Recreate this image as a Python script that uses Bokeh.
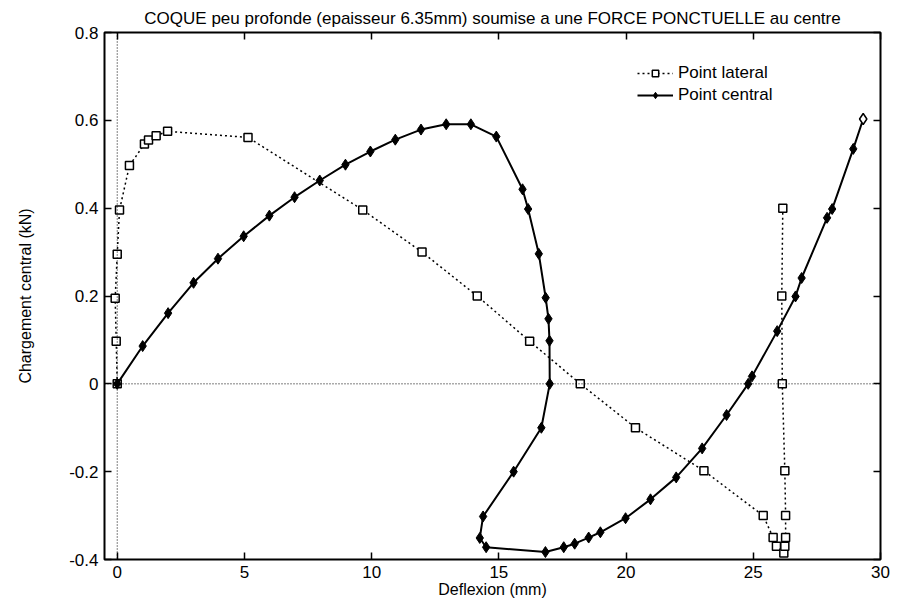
from bokeh.plotting import figure
from bokeh.models import FixedTicker, LinearAxis, Span, Legend, LegendItem
from bokeh.embed import file_html
from bokeh.resources import INLINE

# Point lateral (squares, dotted)
lat_x = [0.0, -0.04, -0.08, 0.0, 0.09, 0.48, 1.07, 1.23, 1.53, 1.98, 5.14, 9.65, 11.98, 14.15,
         16.21, 18.2, 20.37, 23.06, 25.39, 25.78, 25.91, 26.2, 26.24, 26.27, 26.27, 26.24,
         26.14, 26.12, 26.16]
lat_y = [0.0, 0.097, 0.195, 0.295, 0.396, 0.497, 0.546, 0.555, 0.565, 0.575, 0.561, 0.396, 0.3, 0.2,
         0.097, 0.0, -0.1, -0.198, -0.3, -0.35, -0.37, -0.385, -0.37, -0.35, -0.3, -0.198,
         0.0, 0.2, 0.4]

# Point central (diamonds, solid)
cen_x = [0.0, 1.0, 2.0, 3.0, 3.96, 4.97, 5.98, 6.97, 7.96, 8.97, 9.95, 10.93, 11.94, 12.93, 13.9,
         14.9, 15.93, 16.15, 16.57, 16.84, 16.95, 16.99, 17.0, 16.67, 15.58, 14.38, 14.25, 14.5,
         16.83, 17.55, 17.98, 18.53, 18.99, 19.98, 20.96, 21.97, 22.99, 23.95, 24.8, 24.95,
         25.94, 26.66, 26.9, 27.9, 28.1, 28.93, 29.32]
cen_y = [0.0, 0.086, 0.161, 0.23, 0.285, 0.336, 0.383, 0.425, 0.463, 0.499, 0.529, 0.556, 0.579,
         0.591, 0.591, 0.563, 0.443, 0.398, 0.296, 0.196, 0.148, 0.098, 0.0, -0.1, -0.2, -0.302,
         -0.351, -0.372, -0.383, -0.372, -0.364, -0.35, -0.338, -0.306, -0.263, -0.213, -0.147,
         -0.071, 0.0, 0.017, 0.12, 0.199, 0.241, 0.378, 0.398, 0.535, 0.603]

x_ticks = [0, 5, 10, 15, 20, 25, 30]
x_labels = ["0", "5", "10", "15", "20", "25", "30"]
y_ticks = [-0.4, -0.2, 0, 0.2, 0.4, 0.6, 0.8]
y_labels = ["-0.4", "-0.2", "0", "0.2", "0.4", "0.6", "0.8"]

FONT = "Liberation Sans"

p = figure(width=899, height=604, output_backend="svg", toolbar_location=None,
           x_range=(-0.5, 30), y_range=(-0.4, 0.8),
           min_border_left=104, min_border_right=19, min_border_top=32, min_border_bottom=45,
           title="COQUE peu profonde (epaisseur 6.35mm) soumise a une FORCE PONCTUELLE au centre")
p.title.align = "center"
p.title.text_font = FONT
p.title.text_font_size = "17px"
p.title.text_font_style = "normal"
p.title.text_color = "black"
p.title.offset = 0
p.grid.visible = False
p.outline_line_color = "black"
p.outline_line_width = 2
p.background_fill_color = "white"
p.border_fill_color = "white"

# axes
p.xaxis.ticker = FixedTicker(ticks=x_ticks)
p.yaxis.ticker = FixedTicker(ticks=y_ticks)
p.xaxis.major_label_overrides = {t: l for t, l in zip(x_ticks, x_labels)}
p.yaxis.major_label_overrides = {t: l for t, l in zip(y_ticks, y_labels)}
for ax in (p.xaxis[0], p.yaxis[0]):
    ax.major_tick_in = 7
    ax.major_tick_out = 0
    ax.minor_tick_line_color = None
    ax.axis_line_color = None
    ax.major_tick_line_width = 1.5
    ax.major_label_text_font = FONT
    ax.major_label_text_font_size = "17px"
    ax.major_label_text_color = "black"
    ax.axis_label_text_font = FONT
    ax.axis_label_text_font_size = "16px"
    ax.axis_label_text_font_style = "normal"
    ax.axis_label_text_color = "black"
    ax.major_label_standoff = 6
p.xaxis.axis_label = "Deflexion (mm)"
p.yaxis.axis_label = "Chargement central (kN)"
p.xaxis.axis_label_standoff = 0
p.yaxis.axis_label_standoff = 32

top = LinearAxis(ticker=FixedTicker(ticks=x_ticks), major_tick_in=7, major_tick_out=0,
                 minor_tick_line_color=None, axis_line_color=None, major_label_text_color=None,
                 major_label_text_font_size="1px", major_tick_line_width=1.5)
right = LinearAxis(ticker=FixedTicker(ticks=y_ticks), major_tick_in=7, major_tick_out=0,
                   minor_tick_line_color=None, axis_line_color=None, major_label_text_color=None,
                   major_label_text_font_size="1px", major_tick_line_width=1.5)
p.add_layout(top, "above")
p.add_layout(right, "right")

# zero axes
p.add_layout(Span(location=0, dimension="width", line_color="black", line_width=1, line_dash="1 2"))
p.add_layout(Span(location=0, dimension="height", line_color="black", line_width=1, line_dash="1 2"))

l1 = p.line(lat_x, lat_y, line_color="black", line_width=1.5, line_dash="2 3")
s1 = p.scatter(lat_x, lat_y, marker="square", size=8, fill_color="white", line_color="black", line_width=1.5)
l2 = p.line(cen_x, cen_y, line_color="black", line_width=2)
s2 = p.scatter(cen_x[:-1], cen_y[:-1], marker="diamond", size=11, fill_color="black", line_color="black")
s3 = p.scatter(cen_x[-1:], cen_y[-1:], marker="diamond", size=11, fill_color="white", line_color="black", line_width=1.5)

legend = Legend(items=[LegendItem(label="Point lateral", renderers=[l1, s1]),
                       LegendItem(label="Point central", renderers=[l2, s2])],
                location=(533, 454))
legend.border_line_color = None
legend.background_fill_alpha = 0
legend.label_text_font = FONT
legend.label_text_font_size = "17px"
legend.label_text_color = "black"
legend.glyph_width = 36
legend.label_height = 16
legend.glyph_height = 16
legend.spacing = 2
legend.padding = 4
p.add_layout(legend, "center")

open("out.html", "w").write(file_html(p, INLINE))
